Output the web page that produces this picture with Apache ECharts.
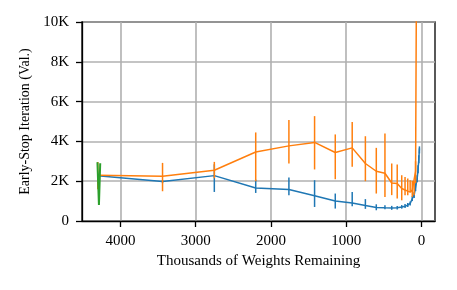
<!DOCTYPE html>
<html>
<head>
<meta charset="utf-8">
<script src="https://cdn.jsdelivr.net/npm/echarts@6/dist/echarts.min.js"></script>
<style>html,body{margin:0;padding:0;background:#fff;}#c{width:457px;height:290px;}</style>
</head>
<body>
<div id="c"></div>
<script>
const weightsK = [4300, 3440, 2752, 2202, 1761, 1420, 1145, 920, 745, 600, 485, 395, 322, 262, 218, 182, 150, 122, 97, 78, 57, 45, 35, 27];
const blueVals = [2270, 1980, 2280, 1660, 1580, 1270, 1000, 910, 780, 680, 660, 650, 665, 700, 740, 800, 880, 1120, 1300, 1700, 2130, 2600, 3100, 3650];
const blueLow  = [2150, 1900, 1460, 1410, 1290, 705, 625, 740, 610, 540, 585, 560, 580, 620, 650, 700, 780, 1000, 1150, 1500, 1950, 2400, 2900, 3400];
const blueHigh = [2400, 2060, 2850, 2080, 2185, 2050, 1380, 1460, 1100, 840, 790, 760, 760, 800, 850, 900, 980, 1250, 1450, 1900, 2300, 2800, 3300, 3750];
const orangeVals = [2300, 2250, 2550, 3470, 3775, 3950, 3440, 3675, 2890, 2500, 2400, 1910, 1880, 1630, 1560, 1500, 1450, 1550, 1650, 2500, 20000];
const orangeLow  = [1600, 1495, 2150, 2000, 2890, 2590, 2100, 2720, 2000, 1380, 1210, 1300, 1130, 1040, 1290, 1290, 1460, 1210, 1300, 1900, null];
const orangeHigh = [2970, 2920, 2970, 4450, 5070, 5270, 4350, 4970, 4260, 3675, 4400, 2890, 2840, 2300, 2215, 2130, 2050, 2020, 2000, 3000, null];
const greenX = [4305, 4285, 4268];
const greenVals = [2950, 800, 2900];
const xTickValues = [0, 1000, 2000, 3000, 4000];
const yTickLabels = ['0', '2K', '4K', '6K', '8K', '10K'];

const BLUE = '#1f77b4', ORANGE = '#ff7f0e', GREEN = '#2ca02c';
const FONT = 'Liberation Serif';

function pts(vals) {
  const out = [];
  vals.forEach((v, i) => { if (v != null) out.push([weightsK[i], v]); });
  return out;
}
function errPts(lo, hi) {
  const out = [];
  lo.forEach((l, i) => { if (l != null && hi[i] != null) out.push([weightsK[i], l, hi[i]]); });
  return out;
}
function errRender(color) {
  return function (params, api) {
    const p1 = api.coord([api.value(0), api.value(1)]);
    const p2 = api.coord([api.value(0), api.value(2)]);
    return { type: 'line', shape: { x1: p1[0], y1: p1[1], x2: p2[0], y2: p2[1] },
      style: { stroke: color, lineWidth: 1.5 } };
  };
}

const chart = echarts.init(document.getElementById('c'), null, { renderer: 'canvas' });
chart.setOption({
  animation: false,
  grid: { left: 82, right: 22, top: 22, bottom: 69, show: true, borderColor: '#000', borderWidth: 1.3, backgroundColor: 'transparent' },
  xAxis: {
    type: 'value', inverse: true, min: -180, max: 4510,
    name: 'Thousands of Weights Remaining', nameLocation: 'middle', nameGap: 31,
    nameTextStyle: { fontFamily: FONT, fontSize: 15, color: '#000' },
    axisLine: { show: true, onZero: false, lineStyle: { color: '#000', width: 1.3 } },
    axisTick: { show: true, length: 6, customValues: xTickValues, lineStyle: { color: '#000', width: 1.3 } },
    axisLabel: { customValues: xTickValues, margin: 13, fontFamily: FONT, fontSize: 15, color: '#000',
      formatter: v => String(v) },
    splitLine: { show: true, lineStyle: { color: '#b0b0b0', width: 1.6 } }
  },
  yAxis: {
    type: 'value', min: 0, max: 10000, interval: 2000,
    name: 'Early-Stop Iteration (Val.)', nameLocation: 'middle', nameGap: 49, nameRotate: 90,
    nameTextStyle: { fontFamily: FONT, fontSize: 14, color: '#000' },
    axisLine: { show: true, onZero: false, lineStyle: { color: '#000', width: 1.3 } },
    axisTick: { show: true, length: 6, lineStyle: { color: '#000', width: 1.3 } },
    axisLabel: { margin: 13, fontFamily: FONT, fontSize: 15, color: '#000',
      formatter: v => yTickLabels[Math.round(v / 2000)] },
    splitLine: { show: true, lineStyle: { color: '#b0b0b0', width: 1.6 } }
  },
  series: [
    { type: 'line', data: pts(blueVals), showSymbol: false, symbol: 'none', clip: true,
      lineStyle: { color: BLUE, width: 1.5 }, z: 3 },
    { type: 'custom', data: errPts(blueLow, blueHigh), renderItem: errRender(BLUE), clip: true, z: 3 },
    { type: 'line', data: pts(orangeVals), showSymbol: false, symbol: 'none', clip: true,
      lineStyle: { color: ORANGE, width: 1.5 }, z: 4 },
    { type: 'custom', data: errPts(orangeLow, orangeHigh), renderItem: errRender(ORANGE), clip: true, z: 4 },
    { type: 'line', data: greenX.map((x, i) => [x, greenVals[i]]), showSymbol: false, symbol: 'none', clip: true,
      lineStyle: { color: GREEN, width: 2 }, z: 5 }
  ]
});
</script>
</body>
</html>
